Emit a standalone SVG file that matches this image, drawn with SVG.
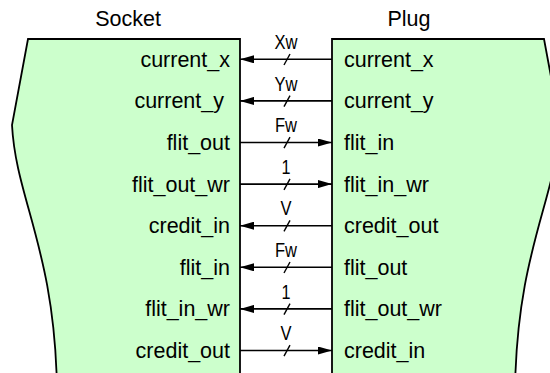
<svg xmlns="http://www.w3.org/2000/svg" width="550" height="373" viewBox="0 0 550 373">
<style>
.blk{fill:#ccffcc;stroke:#000;stroke-width:1.8;stroke-linejoin:miter}
.t{font-family:"Liberation Sans",Arial,sans-serif;font-size:21.5px;fill:#000}
.w{font-family:"Liberation Sans",Arial,sans-serif;font-size:20px;fill:#000;text-anchor:middle}
.ln{stroke:#000;stroke-width:1.6;fill:none}
.sl{stroke:#000;stroke-width:1.4}
</style>
<defs>
<marker id="ah" viewBox="0 0 14 8" refX="14" refY="4" markerWidth="14" markerHeight="8" markerUnits="userSpaceOnUse" orient="auto">
<path d="M0,0 L14,4 L0,8 Z" fill="#000"/>
</marker>
</defs>
<rect width="550" height="373" fill="#fff"/>
<g id="socket">
<path class="blk" d="M240,390 L240,39 L28,39 L12,125 C16,200 55,250 57,390"/>
<text class="t" x="128" y="26" text-anchor="middle">Socket</text>
<text class="t" x="230" y="66.5" text-anchor="end">current_x</text>
<text class="t" x="224" y="108" text-anchor="end">current_y</text>
<text class="t" x="230" y="150" text-anchor="end">flit_out</text>
<text class="t" x="230" y="191.5" text-anchor="end">flit_out_wr</text>
<text class="t" x="230" y="233" text-anchor="end">credit_in</text>
<text class="t" x="230" y="274.5" text-anchor="end">flit_in</text>
<text class="t" x="230" y="316" text-anchor="end">flit_in_wr</text>
<text class="t" x="230" y="358" text-anchor="end">credit_out</text>
</g>
<g id="plug">
<path class="blk" d="M332,390 L332,39 L544,39 L560,125 C556,200 517,250 515,390"/>
<text class="t" x="409" y="26" text-anchor="middle">Plug</text>
<text class="t" x="344" y="66.5">current_x</text>
<text class="t" x="344" y="108">current_y</text>
<text class="t" x="344" y="150">flit_in</text>
<text class="t" x="344" y="191.5">flit_in_wr</text>
<text class="t" x="344" y="233">credit_out</text>
<text class="t" x="344" y="274.5">flit_out</text>
<text class="t" x="344" y="316">flit_out_wr</text>
<text class="t" x="344" y="358">credit_in</text>
</g>
<g id="connectors">
<line class="ln" x1="332" y1="59.3" x2="240" y2="59.3" marker-end="url(#ah)"/>
<line class="ln" x1="332" y1="100.9" x2="240" y2="100.9" marker-end="url(#ah)"/>
<line class="ln" x1="240" y1="142.5" x2="332" y2="142.5" marker-end="url(#ah)"/>
<line class="ln" x1="240" y1="184.1" x2="332" y2="184.1" marker-end="url(#ah)"/>
<line class="ln" x1="332" y1="225.7" x2="240" y2="225.7" marker-end="url(#ah)"/>
<line class="ln" x1="332" y1="267.3" x2="240" y2="267.3" marker-end="url(#ah)"/>
<line class="ln" x1="332" y1="308.9" x2="240" y2="308.9" marker-end="url(#ah)"/>
<line class="ln" x1="240" y1="350.5" x2="332" y2="350.5" marker-end="url(#ah)"/>
<g>
<line class="sl" x1="284" y1="65" x2="290" y2="54"/>
<line class="sl" x1="284" y1="106.6" x2="290" y2="95.6"/>
<line class="sl" x1="284" y1="148.2" x2="290" y2="137.2"/>
<line class="sl" x1="284" y1="189.8" x2="290" y2="178.8"/>
<line class="sl" x1="284" y1="231.4" x2="290" y2="220.4"/>
<line class="sl" x1="284" y1="273" x2="290" y2="262"/>
<line class="sl" x1="284" y1="314.6" x2="290" y2="303.6"/>
<line class="sl" x1="284" y1="356.2" x2="290" y2="345.2"/>
</g>
<text class="w" x="286" y="49" textLength="23" lengthAdjust="spacingAndGlyphs">Xw</text>
<text class="w" x="286" y="90.6" textLength="23" lengthAdjust="spacingAndGlyphs">Yw</text>
<text class="w" x="286" y="132.2" textLength="22" lengthAdjust="spacingAndGlyphs">Fw</text>
<text class="w" x="286" y="173.8" textLength="9" lengthAdjust="spacingAndGlyphs">1</text>
<text class="w" x="286" y="215.4" textLength="11" lengthAdjust="spacingAndGlyphs">V</text>
<text class="w" x="286" y="257" textLength="22" lengthAdjust="spacingAndGlyphs">Fw</text>
<text class="w" x="286" y="298.6" textLength="9" lengthAdjust="spacingAndGlyphs">1</text>
<text class="w" x="286" y="340.2" textLength="11" lengthAdjust="spacingAndGlyphs">V</text>
</g>
</svg>
